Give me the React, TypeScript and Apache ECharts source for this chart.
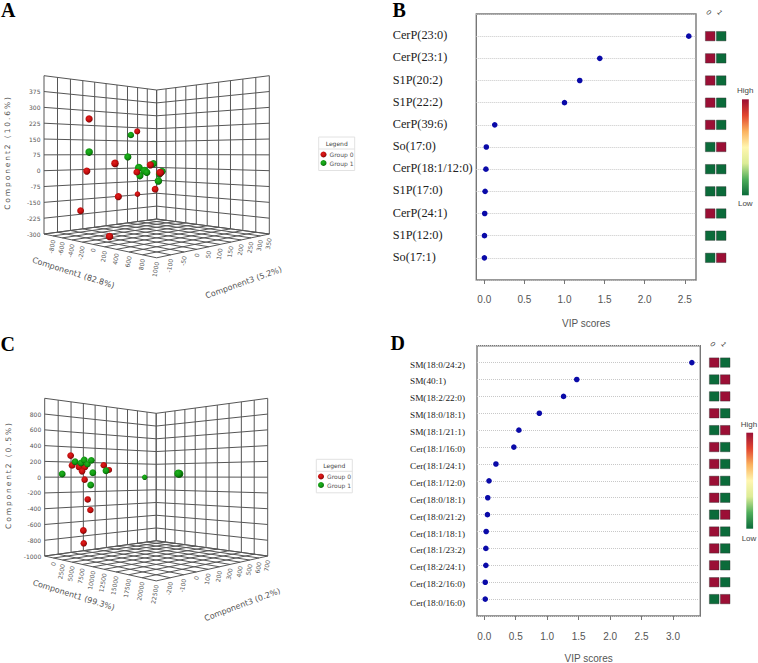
import React, { useEffect, useRef } from "react";
import * as echarts from "echarts";

// ---------- Panel A (PLS-DA score plot) ----------
const aRedC1 = [-599, -662, -230, -620, -55, -328, 284, -160, -340, -950, -843, -276];
const aRedC2 = [245, 197, 36, -2, 28, -10, -4, -94, -123, -144, -199, -300];
const aRedC3 = [-50, 170, -22, -55, 86, 91, 44, 133, 15, 238, -38, -34];
const aGreenC1 = [-545, -451, -256, -28, 106, 153, -87, -149, 49, 25, 146];
const aGreenC2 = [175, 88, 65, 33, 18, 5, -8, -24, -3, -16, -45];
const aGreenC3 = [114, -78, 36, 93, -1, 11, 78, 63, 112, 106, 71];
const aC1Ticks = [-1000, -800, -600, -400, -200, 0, 200, 400, 600, 800, 1000];
const aC2Ticks = [-300, -225, -150, -75, 0, 75, 150, 225, 300, 375, 450];
const aC3Ticks = [-150, -100, -50, 0, 50, 100, 150, 200, 250, 300, 350];

// ---------- Panel C ----------
const cRedC1 = [-1638, -1488, -675, -12, -2450, -2138, -1775, -1463, -175, -2250, 138, -1475];
const cRedC2 = [282, 154, 133, 133, 78, -34, -302, -446, -698, -897, 160, 100];
const cRedC3 = [-127, -120, -88, -61, -12, 0, 15, 28, -68, -4, 92, 191];
const cGreenC1 = [-2475, -1138, -438, -63, -1813, 750, 912, 675, 2450, -1925, 15500, 15400];
const cGreenC2 = [42, 202, 186, 224, 174, 220, 58, -102, 84, -4, 42, 44];
const cGreenC3 = [-170, -106, -78, -64, 14, -31, -24, -34, 37, 553, 176, 170];
const cC1Ticks = [-2500, 0, 2500, 5000, 7500, 10000, 12500, 15000, 17500, 20000, 22500];
const cC2Ticks = [-1000, -800, -600, -400, -200, 0, 200, 400, 600, 800, 1000];
const cC3Ticks = [-300, -200, -100, 0, 100, 200, 300, 400, 500, 600, 700];

// ---------- Panel B (VIP scores) ----------
const bNames = ["CerP(23:0)", "CerP(23:1)", "S1P(20:2)", "S1P(22:2)", "CerP(39:6)", "So(17:0)", "CerP(18:1/12:0)", "S1P(17:0)", "CerP(24:1)", "S1P(12:0)", "So(17:1)"];
const bVip = [2.55, 1.44, 1.19, 1.0, 0.13, 0.025, 0.02, 0.01, 0.005, 0.002, 0.001];
const bGroup0 = [1, 1, 1, 1, 1, -1, -1, -1, 1, -1, -1];
const bGroup1 = [-1, -1, -1, -1, -1, 1, -1, -1, -1, -1, 1];
const bTicks = [0, 0.5, 1, 1.5, 2, 2.5];

// ---------- Panel D (VIP scores) ----------
const dNames = ["SM(18:0/24:2)", "SM(40:1)", "SM(18:2/22:0)", "SM(18:0/18:1)", "SM(18:1/21:1)", "Cer(18:1/16:0)", "Cer(18:1/24:1)", "Cer(18:1/12:0)", "Cer(18:0/18:1)", "Cer(18:0/21:2)", "Cer(18:1/18:1)", "Cer(18:1/23:2)", "Cer(18:2/24:1)", "Cer(18:2/16:0)", "Cer(18:0/16:0)"];
const dVip = [3.3, 1.47, 1.26, 0.875, 0.55, 0.47, 0.185, 0.075, 0.055, 0.05, 0.03, 0.025, 0.025, 0.015, 0.015];
const dGroup0 = [1, -1, -1, 1, -1, 1, 1, 1, 1, -1, 1, 1, 1, 1, -1];
const dGroup1 = [-1, 1, 1, -1, 1, -1, -1, -1, -1, 1, -1, -1, -1, -1, 1];
const dTicks = [0, 0.5, 1, 1.5, 2, 2.5, 3];

const heatColors = ["#0b6b3a", "#4fae5b", "#dcec96", "#fff6b0", "#fbb25e", "#e2452f", "#9b0f35"];
const groupNames = ["Group 0", "Group 1"];
const columnNames = ["0", "1"];

const GRID_COLOR = "#565656";
const TEXT_COLOR = "#555555";
const SANS3D = "'DejaVu Sans'";
const RED_BALL = { type: "radial", x: 0.42, y: 0.38, r: 0.62, colorStops: [{ offset: 0, color: "#e2201f" }, { offset: 0.65, color: "#c00c0c" }, { offset: 1, color: "#6e0505" }] };
const GREEN_BALL = { type: "radial", x: 0.42, y: 0.38, r: 0.62, colorStops: [{ offset: 0, color: "#22b322" }, { offset: 0.65, color: "#0f960f" }, { offset: 1, color: "#045604" }] };

type Cam = { k: number; c: number };

// Perspective projection of normalised cube coordinates to the hidden plane axes.
function project(cam: Cam, a: number, b: number, t: number) {
  const w = 1 + cam.k * (b - a);
  return [(a + b - 1) / w, (t - cam.c) / w, w];
}
const norm = (ticks: number[], v: number) => (v - ticks[0]) / (ticks[ticks.length - 1] - ticks[0]);

function wireSeries(
  cam: Cam, axisIndex: number,
  c1Ticks: number[], c2Ticks: number[], c3Ticks: number[],
  titles: { y: string; c1: string; c3: string; yPos: number[]; c1Pos: number[]; c1Rot: number; c3Pos: number[]; c3Rot: number; }
) {
  return {
    type: "custom",
    coordinateSystem: "cartesian2d",
    xAxisIndex: axisIndex,
    yAxisIndex: axisIndex,
    silent: true,
    clip: false,
    z: 1,
    data: [[0, 0]],
    renderItem: (_p: any, api: any) => {
      const pt = (a: number, b: number, t: number) => {
        const p = project(cam, a, b, t);
        return api.coord([p[0], p[1]]);
      };
      const children: any[] = [];
      const seg = (p1: number[], p2: number[]) =>
        children.push({
          type: "line",
          shape: { x1: p1[0], y1: p1[1], x2: p2[0], y2: p2[1] },
          style: { stroke: GRID_COLOR, lineWidth: 1 },
        });
      const label = (text: string, x: number, y: number, rotation: number, align: string, size = 6) =>
        children.push({
          type: "text",
          x, y, rotation,
          style: { text, x: 0, y: 0, align, verticalAlign: "middle", fill: TEXT_COLOR, font: `${size}px ${SANS3D}` },
        });
      c1Ticks.forEach((v, i) => {
        const a = norm(c1Ticks, v);
        seg(pt(a, 0, 0), pt(a, 1, 0));
        seg(pt(a, 1, 0), pt(a, 1, 1));
        if (i > 0) { const p = pt(a, 0, 0); label(String(v), p[0], p[1] + 4, (80 * Math.PI) / 180, "right"); }
      });
      c3Ticks.forEach((v, i) => {
        const b = norm(c3Ticks, v);
        seg(pt(0, b, 0), pt(1, b, 0));
        seg(pt(0, b, 0), pt(0, b, 1));
        if (i > 0) { const p = pt(1, b, 0); label(String(v), p[0], p[1] + 4, (80 * Math.PI) / 180, "right"); }
      });
      c2Ticks.forEach((v, i) => {
        const t = norm(c2Ticks, v);
        seg(pt(0, 0, t), pt(0, 1, t));
        seg(pt(0, 1, t), pt(1, 1, t));
        if (i < c2Ticks.length - 1) { const p = pt(0, 0, t); label(String(v), p[0] - 3.5, p[1], 0, "right"); }
      });
      label(titles.y, titles.yPos[0], titles.yPos[1], Math.PI / 2, "center", 7.5);
      label(titles.c1, titles.c1Pos[0], titles.c1Pos[1], (-titles.c1Rot * Math.PI) / 180, "center", 8);
      label(titles.c3, titles.c3Pos[0], titles.c3Pos[1], (titles.c3Rot * Math.PI) / 180, "center", 8);
      return { type: "group", children };
    },
  };
}

function ballSeries(
  name: string, color: any, cam: Cam, axisIndex: number,
  c1: number[], c2: number[], c3: number[],
  c1Ticks: number[], c2Ticks: number[], c3Ticks: number[]
) {
  return {
    type: "scatter",
    name,
    xAxisIndex: axisIndex,
    yAxisIndex: axisIndex,
    z: 3,
    clip: false,
    silent: true,
    itemStyle: { color, opacity: 1 },
    data: c1.map((v, i) => project(cam, norm(c1Ticks, v), norm(c3Ticks, c3[i]), norm(c2Ticks, c2[i]))),
    symbolSize: (val: number[]) => 7.2 / Math.pow(val[2], 1.6),
  };
}

const planeX = { type: "value", show: false, min: -1, max: 1 };
const planeY = (cam: Cam) => ({ type: "value", show: false, min: -cam.c / (1 - cam.k), max: 1 - cam.c });

function vipAxes(names: string[], xMin: number, xMax: number, ticks: number[], font: number, labelMargin: number, labelAlign: any, tickMargin: number, nameGap: number, lastAlign?: any) {
  const cats: any[] = ["", ...names.map((n, i) => (lastAlign && i === names.length - 1 ? { value: n, textStyle: { align: "left", ...lastAlign } } : n)), ""];
  const xMain = {
    type: "value", min: xMin, max: xMax, name: "VIP scores", nameLocation: "middle", nameGap,
    nameTextStyle: { fontFamily: "'Liberation Sans'", fontSize: 10, color: TEXT_COLOR },
    axisLine: { show: false },
    splitLine: { show: false },
    axisTick: { show: true, length: 4, customValues: ticks, lineStyle: { color: "#777777" } },
    axisLabel: { customValues: ticks, margin: tickMargin, fontFamily: "'Liberation Sans'", fontSize: 10, color: TEXT_COLOR, formatter: (v: number) => v.toFixed(1) },
  };
  const yMain = {
    type: "category", data: cats, boundaryGap: false, inverse: true,
    axisLine: { show: false }, axisTick: { show: false },
    splitLine: { show: true, interval: 0, lineStyle: { type: "dotted", color: "#c8c8c8", width: 1 } },
    axisLabel: { interval: 0, align: "left", margin: labelMargin, ...labelAlign, fontFamily: "'Liberation Serif'", fontSize: font, color: "#222222" },
  };
  const xCell = {
    type: "category", data: columnNames, position: "top",
    axisLine: { show: false }, axisTick: { show: false }, splitLine: { show: false },
    axisLabel: { interval: 0, rotate: 50, margin: 0, fontFamily: "'Liberation Sans'", fontSize: 7, color: "#333333" },
  };
  const yCell = { type: "category", data: cats, boundaryGap: false, inverse: true, show: false };
  return { xMain, yMain, xCell, yCell };
}

function vipSeries(names: string[], vip: number[], g0: number[], g1: number[], mainAxis: number, cellAxis: number) {
  return [
    {
      type: "scatter", xAxisIndex: mainAxis, yAxisIndex: mainAxis, symbolSize: 5.6, silent: true,
      itemStyle: { color: "#0a0aa8", opacity: 1 },
      data: names.map((n, i) => [vip[i], n]),
    },
    {
      type: "scatter", xAxisIndex: cellAxis, yAxisIndex: cellAxis, symbol: "rect", symbolSize: [9.6, 9.4], silent: true,
      itemStyle: { borderColor: "#2d2d2d", borderWidth: 0.4, opacity: 1 },
      data: names.flatMap((n, i) => [[0, n, g0[i]], [1, n, g1[i]]]),
    },
  ];
}

// The visual map colours the cells; its bar is drawn below at the reference's exact place.
const heatMap = (seriesIndex: number) => ({
  type: "continuous", seriesIndex, dimension: 2, min: -1, max: 1, show: false,
  inRange: { color: heatColors },
});

function heatBar(x: number, y: number, labelX: number, highY: number, lowY: number) {
  const last = heatColors.length - 1;
  const stops = heatColors.map((_, i) => ({ offset: i / last, color: heatColors[last - i] }));
  const txt = (text: string, ty: number) => ({
    type: "text", z: 2,
    style: { text, x: labelX, y: ty, align: "center", verticalAlign: "middle", font: "8px 'Liberation Sans'", fill: "#444444" },
  });
  return [
    { type: "rect", z: 2, shape: { x, y, width: 6.8, height: 96 }, style: { fill: { type: "linear", x: 0, y: 0, x2: 0, y2: 1, colorStops: stops } } },
    txt("High", highY),
    txt("Low", lowY),
  ];
}

function legendBox(x: number, y: number) {
  return [
    { type: "rect", z: 0, shape: { x, y, width: 36, height: 33.5 }, style: { fill: "#ffffff", stroke: "#e2e2e2", lineWidth: 1 } },
    { type: "line", z: 0, shape: { x1: x, y1: y + 12, x2: x + 36, y2: y + 12 }, style: { stroke: "#e2e2e2", lineWidth: 1 } },
    { type: "text", z: 1, style: { text: "Legend", x: x + 18, y: y + 6, align: "center", verticalAlign: "middle", font: `6px ${SANS3D}`, fill: "#444444" } },
  ];
}
const legendFor = (left: number, top: number) => ({
  data: groupNames, left, top, padding: 0, orient: "vertical", itemWidth: 6, itemHeight: 6, itemGap: 2.5, selectedMode: false, icon: "circle",
  textStyle: { fontFamily: "'DejaVu Sans'", fontSize: 6, color: TEXT_COLOR, padding: [0, 0, 0, -2] },
});
const panelLetter = (text: string, x: number, y: number) => ({
  type: "text", z: 5, style: { text, x, y, align: "left", verticalAlign: "middle", font: "bold 20px 'Liberation Serif'", fill: "#000000" },
});

export default function App() {
  const ref = useRef<HTMLDivElement | null>(null);
  useEffect(() => {
    const chart = echarts.init(ref.current!, undefined, { renderer: "svg", width: 758, height: 663 });
    const camA: Cam = { k: 0.227, c: 0.5117 };
    const camC: Cam = { k: 0.238, c: 0.5048 };
    const b = vipAxes(bNames, -0.1, 2.64, bTicks, 12.3, 83.6, { verticalAlign: "bottom", lineHeight: 2 }, 14, 38);
    const d = vipAxes(dNames, -0.116, 3.434, dTicks, 9.25, 67, { verticalAlign: "top", lineHeight: 4 }, 15, 37, { verticalAlign: "top", lineHeight: 8 });

    const series: any[] = [
      wireSeries(camA, 0, aC1Ticks, aC2Ticks, aC3Ticks, {
        y: "Component2 (10.6%)", c1: "Component1 (82.8%)", c3: "Component3 (5.2%)",
        yPos: [7.3, 152.5], c1Pos: [73.3, 273], c1Rot: 17.7, c3Pos: [243.7, 282.7], c3Rot: 19.6,
      }),
      ballSeries("Group 1", GREEN_BALL, camA, 0, aGreenC1, aGreenC2, aGreenC3, aC1Ticks, aC2Ticks, aC3Ticks),
      ballSeries("Group 0", RED_BALL, camA, 0, aRedC1, aRedC2, aRedC3, aC1Ticks, aC2Ticks, aC3Ticks),
      ...vipSeries(bNames, bVip, bGroup0, bGroup1, 1, 2),
      wireSeries(camC, 3, cC1Ticks, cC2Ticks, cC3Ticks, {
        y: "Component2 (0.5%)", c1: "Component1 (99.3%)", c3: "Component3 (0.2%)",
        yPos: [8, 475], c1Pos: [73.7, 595.3], c1Rot: 17.4, c3Pos: [242.3, 604.7], c3Rot: 20.5,
      }),
      ballSeries("Group 0", RED_BALL, camC, 3, cRedC1, cRedC2, cRedC3, cC1Ticks, cC2Ticks, cC3Ticks),
      ballSeries("Group 1", GREEN_BALL, camC, 3, cGreenC1, cGreenC2, cGreenC3, cC1Ticks, cC2Ticks, cC3Ticks),
      ...vipSeries(dNames, dVip, dGroup0, dGroup1, 4, 5),
    ];

    const free = { outerBoundsMode: "none" };
    chart.setOption({
      animation: false,
      backgroundColor: "#ffffff",
      grid: [
        { ...free, left: 44, top: 75.7, width: 225.3, height: 182.1 },
        { ...free, left: 476.3, top: 14, width: 219.7, height: 266, show: true, borderColor: "#777777", borderWidth: 1.4, backgroundColor: "#ffffff" },
        { ...free, left: 704.7, top: 14, width: 22, height: 266 },
        { ...free, left: 44.7, top: 398.3, width: 223, height: 182.6 },
        { ...free, left: 477, top: 345.7, width: 223.3, height: 270.3, show: true, borderColor: "#777777", borderWidth: 1.4, backgroundColor: "#ffffff" },
        { ...free, left: 708.7, top: 345.7, width: 22, height: 270.3 },
      ],
      xAxis: [
        { ...planeX, gridIndex: 0 },
        { ...b.xMain, gridIndex: 1 },
        { ...b.xCell, gridIndex: 2 },
        { ...planeX, gridIndex: 3 },
        { ...d.xMain, gridIndex: 4 },
        { ...d.xCell, gridIndex: 5 },
      ],
      yAxis: [
        { ...planeY(camA), gridIndex: 0 },
        { ...b.yMain, gridIndex: 1 },
        { ...b.yCell, gridIndex: 2 },
        { ...planeY(camC), gridIndex: 3 },
        { ...d.yMain, gridIndex: 4 },
        { ...d.yCell, gridIndex: 5 },
      ],
      legend: [legendFor(320.5, 151.5), legendFor(318, 473.5)],
      visualMap: [heatMap(4), heatMap(9)],
      graphic: [
        ...legendBox(318.7, 137),
        ...legendBox(316.3, 459.3),
        ...heatBar(742, 99.3, 745.3, 90.7, 203),
        ...heatBar(746.3, 432.7, 749, 424, 538),
        panelLetter("A", 1, 10),
        panelLetter("B", 392.5, 10),
        panelLetter("C", 0.5, 343.5),
        panelLetter("D", 390.5, 343),
      ],
      series,
    });

    const applySpacing = () => {
      ref.current?.querySelectorAll("text").forEach((el) => {
        if ((el.textContent || "").startsWith("Component2")) el.setAttribute("letter-spacing", "1.9");
      });
    };
    applySpacing();
    chart.on("finished", applySpacing);
    return () => chart.dispose();
  }, []);
  return <div ref={ref} style={{ position: "fixed", left: 0, top: 0, width: 758, height: 663, background: "#fff" }} />;
}
